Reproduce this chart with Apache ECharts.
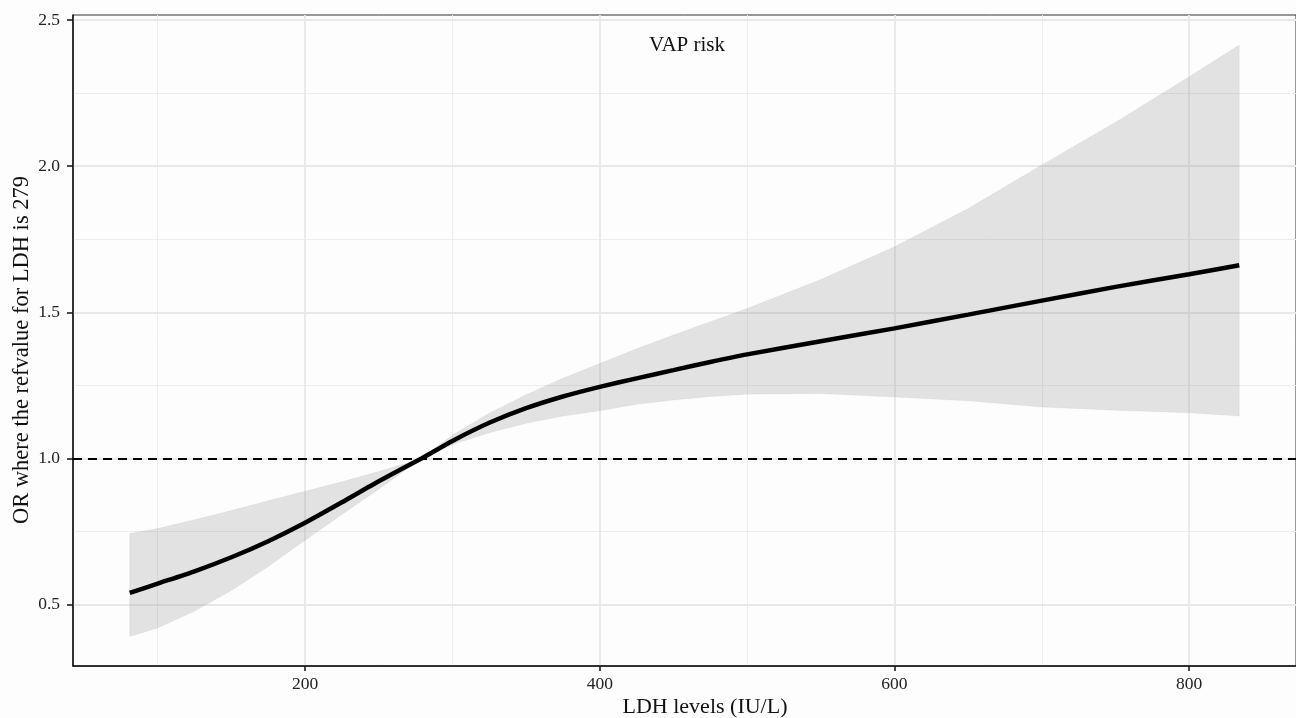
<!DOCTYPE html>
<html>
<head>
<meta charset="utf-8">
<script src="https://cdn.jsdelivr.net/npm/echarts@6/dist/echarts.min.js"></script>
<style>
  html, body { margin: 0; padding: 0; background: #fdfdfd; }
  #chart { width: 1296px; height: 718px; }
</style>
</head>
<body>
<div id="chart"></div>
<script>
// LDH values along the spline and the odds ratio (ref value 279)
var ldh = [81, 100, 125, 150, 175, 200, 225, 250, 279, 300, 325, 350, 375, 400, 425, 450, 475, 500, 550, 600, 650, 700, 750, 800, 834]
var orFit = [0.540, 0.572, 0.614, 0.662, 0.717, 0.780, 0.850, 0.922, 1.000, 1.060, 1.122, 1.172, 1.212, 1.245, 1.274, 1.302, 1.330, 1.356, 1.401, 1.445, 1.492, 1.540, 1.587, 1.630, 1.661]
var orUpper = [0.743, 0.760, 0.790, 0.822, 0.855, 0.888, 0.920, 0.955, 1.000, 1.080, 1.155, 1.218, 1.274, 1.325, 1.375, 1.422, 1.468, 1.513, 1.612, 1.724, 1.855, 2.004, 2.150, 2.306, 2.414]
var orLower = [0.391, 0.420, 0.478, 0.548, 0.630, 0.720, 0.808, 0.895, 1.000, 1.048, 1.088, 1.120, 1.145, 1.163, 1.185, 1.200, 1.212, 1.220, 1.222, 1.210, 1.197, 1.176, 1.165, 1.156, 1.145]

var xTicks = [200, 400, 600, 800]
var xMinor = [100, 300, 500, 700]
var yTicks = [0.5, 1.0, 1.5, 2.0, 2.5]
var yMinor = [0.75, 1.25, 1.75, 2.25]
var refOR = 1

var font = 'Liberation Serif'

var chart = echarts.init(document.getElementById('chart'))

var pairs = function (ys) {
  return ldh.map(function (x, i) { return [x, ys[i]] })
}

var gridLines = []
xMinor.forEach(function (v) { gridLines.push({ xAxis: v, lineStyle: { color: '#ededed', width: 1, type: 'solid' } }) })
yMinor.forEach(function (v) { gridLines.push({ yAxis: v, lineStyle: { color: '#ededed', width: 1, type: 'solid' } }) })
xTicks.forEach(function (v) { gridLines.push({ xAxis: v, lineStyle: { color: '#e8e8e8', width: 1.8, type: 'solid' } }) })
yTicks.forEach(function (v) { gridLines.push({ yAxis: v, lineStyle: { color: '#e8e8e8', width: 1.8, type: 'solid' } }) })

// band: upper edge left->right then lower edge right->left
function renderBand(params, api) {
  var pts = []
  for (var i = 0; i < ldh.length; i++) pts.push(api.coord([ldh[i], orUpper[i]]))
  for (var j = ldh.length - 1; j >= 0; j--) pts.push(api.coord([ldh[j], orLower[j]]))
  return {
    type: 'polygon',
    shape: { points: pts },
    style: { fill: 'rgba(120,120,120,0.2)', stroke: 'rgba(120,120,120,0.12)', lineWidth: 0.6 }
  }
}

chart.setOption({
  backgroundColor: '#fdfdfd',
  animation: false,
  grid: {
    left: 73, top: 15, right: -3, bottom: 52,
    show: true, borderColor: '#333', borderWidth: 1, backgroundColor: '#fdfdfd'
  },
  xAxis: {
    type: 'value', min: 42.5, max: 872.5,
    axisLine: { lineStyle: { color: '#111', width: 1.5 } },
    axisTick: { length: 5, customValues: xTicks, lineStyle: { color: '#111', width: 1.5 } },
    axisLabel: { customValues: xTicks, fontFamily: font, fontSize: 17.5, color: '#222', margin: 9 },
    splitLine: { show: false }
  },
  yAxis: {
    type: 'value', min: 0.29, max: 2.517,
    axisLine: { show: true, lineStyle: { color: '#111', width: 1.5 } },
    axisTick: { show: true, length: 6, customValues: yTicks, lineStyle: { color: '#111', width: 1.5 } },
    axisLabel: {
      customValues: yTicks, fontFamily: font, fontSize: 17.5, color: '#222', margin: 13,
      formatter: function (v) { return v.toFixed(1) }
    },
    splitLine: { show: false }
  },
  graphic: [
    {
      type: 'text', x: 687, y: 45,
      style: { text: 'VAP risk', font: '21px "Liberation Serif"', fill: '#111', textAlign: 'center', textVerticalAlign: 'middle' }
    },
    {
      type: 'text', x: 705, y: 707,
      style: { text: 'LDH levels (IU/L)', font: '22px "Liberation Serif"', fill: '#111', textAlign: 'center', textVerticalAlign: 'middle' }
    },
    {
      type: 'text', x: 22, y: 350, rotation: Math.PI / 2,
      style: { text: 'OR where the refvalue for LDH is 279', font: '22.5px "Liberation Serif"', fill: '#111', textAlign: 'center', textVerticalAlign: 'middle' }
    }
  ],
  series: [
    {
      name: 'grid', type: 'line', z: 0, silent: true, symbol: 'none',
      data: [[42.5, 0.29]], lineStyle: { opacity: 0 },
      markLine: { z: 0, silent: true, symbol: 'none', label: { show: false }, data: gridLines }
    },
    {
      name: 'ci', type: 'custom', z: 1, silent: true,
      renderItem: renderBand,
      data: [[ldh[0], orLower[0]]]
    },
    {
      name: 'ref', type: 'line', z: 2, symbol: 'none', data: [[42.5, refOR]], lineStyle: { opacity: 0 },
      markLine: {
        z: 2, silent: true, symbol: 'none', label: { show: false },
        lineStyle: { color: '#000', width: 1.8, type: [9, 6] },
        data: [{ yAxis: refOR }]
      }
    },
    {
      name: 'OR', type: 'line', z: 6, symbol: 'none', smooth: 0.2,
      data: pairs(orFit), lineStyle: { color: '#000', width: 4.5 }
    }
  ]
})
</script>
</body>
</html>
